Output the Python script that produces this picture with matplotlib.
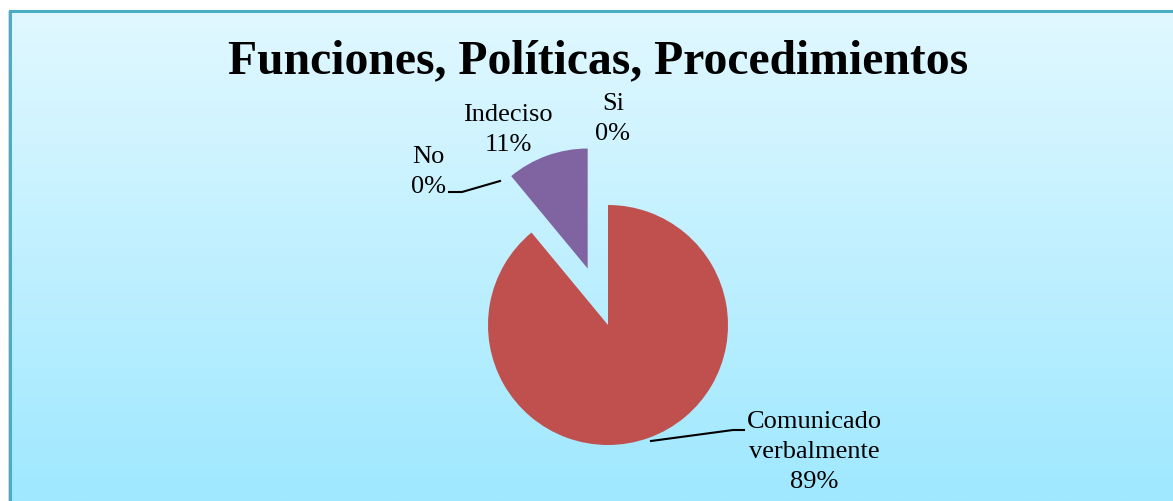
import numpy as np
import matplotlib
matplotlib.use("Agg")
import matplotlib.pyplot as plt
from matplotlib.colors import LinearSegmentedColormap
from matplotlib.patches import Rectangle

# chart data
categories = ["Si", "Comunicado\nverbalmente", "No", "Indeciso"]
percents = [0, 89, 0, 11]
slice_colors = ["#4F81BD", "#C0504D", "#9BBB59", "#8064A2"]
explode_frac = [0, 0, 0, 0.5]
title = "Funciones, Políticas, Procedimientos"

W, H = 1173, 502
plt.rcParams["font.family"] = ["Liberation Serif", "DejaVu Serif"]

fig = plt.figure(figsize=(W / 100, H / 100), dpi=100)
fig.patch.set_facecolor("white")
ax = fig.add_axes([0, 0, 1, 1])
ax.set_xlim(0, W)
ax.set_ylim(0, H)
ax.axis("off")

# frame background with vertical gradient
frame_left, frame_top = 10, 12
grad = LinearSegmentedColormap.from_list("bg", ["#9FE8FF", "#E1F8FF"])
ax.imshow(np.linspace(0, 1, 256).reshape(-1, 1), cmap=grad, origin="lower",
          extent=[frame_left, W + 5, 0, H - frame_top], aspect="auto", zorder=0)
ax.add_patch(Rectangle((frame_left - 2, -10), 2, H - frame_top + 10,
                       facecolor="#D8D8D8", edgecolor="none", zorder=1))
ax.add_patch(Rectangle((frame_left, -10), W + 20, H - frame_top + 10,
                       facecolor="none", edgecolor="#4BACC6", linewidth=2.2, zorder=2))

# pie (explode in matplotlib is in data units, so scale by radius)
cx, cy, r = 608, H - 326, 120
wedges, _ = ax.pie(percents, colors=slice_colors,
                   explode=[e * r for e in explode_frac], startangle=90,
                   counterclock=False, radius=r, center=(cx, cy), frame=True,
                   wedgeprops=dict(linewidth=0))
for w in wedges:
    w.set_zorder(3)
ax.set_xlim(0, W)
ax.set_ylim(0, H)
ax.set_aspect("auto")

ax.text(598, H - 61, title, fontsize=34.3, fontweight="bold", ha="center",
        va="center", zorder=5)

label_pos = {
    "Si": (613, H - 119),
    "Comunicado\nverbalmente": (814, H - 452),
    "No": (428, H - 172),
    "Indeciso": (508, H - 130),
}
for name, pct in zip(categories, percents):
    x, y = label_pos[name]
    ax.text(x, y, f"{name}\n{pct}%", fontsize=19, ha="center", va="center",
            linespacing=1.47, zorder=5)

# leader lines
ax.plot([651, 733, 744], [H - 442, H - 431, H - 431], color="black", lw=1.5, zorder=4)
ax.plot([449, 462, 500], [H - 193, H - 193, H - 182], color="black", lw=1.5, zorder=4)

fig.savefig("out.png", dpi=100)
